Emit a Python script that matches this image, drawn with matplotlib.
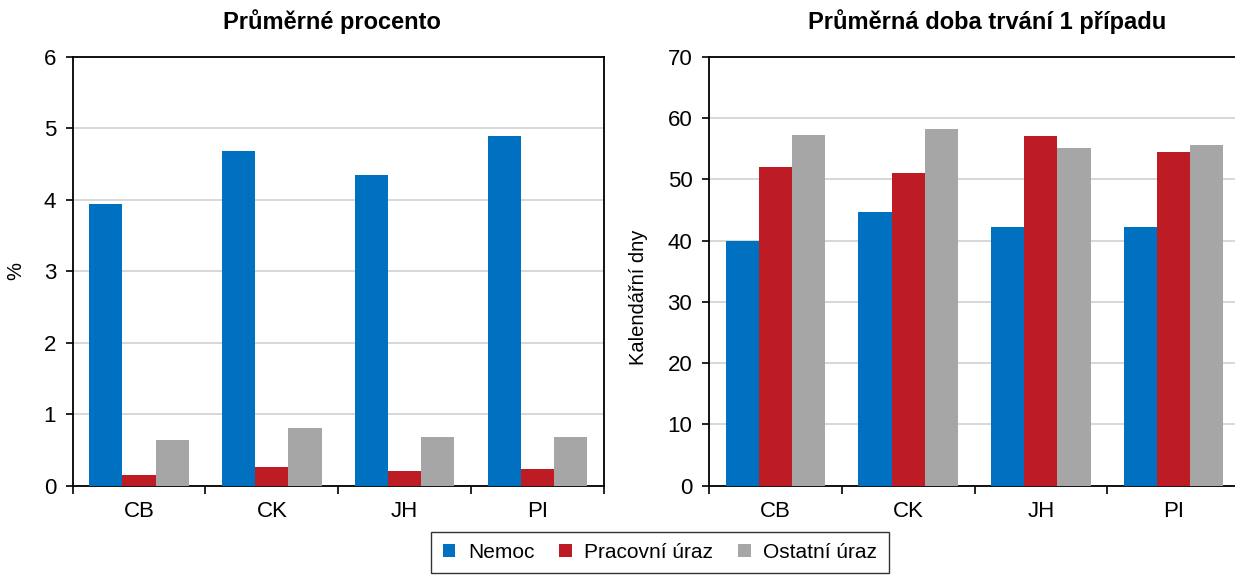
import matplotlib.pyplot as plt
import numpy as np
from matplotlib.patches import Patch

plt.rcParams['font.family'] = ['Liberation Sans', 'DejaVu Sans']

regions = ['CB', 'CK', 'JH', 'PI']
series = ['Nemoc', 'Pracovní úraz', 'Ostatní úraz']
colors = ['#0070C0', '#BE1C24', '#A6A6A6']

# Průměrné procento (%)
pct_nemoc = [3.94, 4.68, 4.35, 4.90]
pct_pracovni = [0.15, 0.26, 0.21, 0.23]
pct_ostatni = [0.64, 0.80, 0.68, 0.68]

# Průměrná doba trvání 1 případu (kalendářní dny)
dny_nemoc = [40.0, 44.6, 42.3, 42.3]
dny_pracovni = [52.1, 51.0, 57.1, 54.4]
dny_ostatni = [57.2, 58.2, 55.2, 55.6]

W, H = 1235, 576
fig = plt.figure(figsize=(W / 100, H / 100), dpi=100)

bottom = (H - 485.5) / H
height = 428.5 / H
ax1 = fig.add_axes([72.7 / W, bottom, 531 / W, height])
ax2 = fig.add_axes([709 / W, bottom, 531 / W, height])

x = np.arange(len(regions))
bw = 0.25


def draw(ax, data, ymax, step):
    for i, (vals, c) in enumerate(zip(data, colors)):
        ax.bar(x + (i - 1) * bw, vals, width=bw, color=c, zorder=3)
    ax.set_xlim(-0.5, len(regions) - 0.5)
    ax.set_ylim(0, ymax)
    ax.set_yticks(np.arange(0, ymax + step / 2, step))
    ax.grid(axis='y', color='#D4D4D4', linewidth=1.3, zorder=0)
    ax.set_xticks(x)
    ax.set_xticklabels(regions)
    ax.set_xticks(np.arange(-0.5, len(regions)), minor=True)
    ax.tick_params(axis='x', which='major', length=0, pad=11, labelsize=16)
    ax.tick_params(axis='x', which='minor', length=6, width=1.2, direction='out')
    ax.tick_params(axis='y', length=5, width=1.2, direction='out', pad=7, labelsize=16)
    for s in ax.spines.values():
        s.set_linewidth(1.3)
        s.set_color('black')


draw(ax1, [pct_nemoc, pct_pracovni, pct_ostatni], 6, 1)
draw(ax2, [dny_nemoc, dny_pracovni, dny_ostatni], 70, 10)

ax1.set_ylabel('%', fontsize=14.5)
ax1.yaxis.set_label_coords(-0.09, 0.5)
ax2.set_ylabel('Kalendářní dny', fontsize=14.5)
ax2.yaxis.set_label_coords(-0.115, 0.44)

fig.text(332 / W, 1 - 22 / H, 'Průměrné procento', ha='center', va='center',
         fontsize=17, fontweight='bold')
fig.text(987 / W, 1 - 22 / H, 'Průměrná doba trvání 1 případu', ha='center',
         va='center', fontsize=17, fontweight='bold')

handles = [Patch(facecolor=c, edgecolor='none') for c in colors]
leg = fig.legend(handles, series, loc='upper center', ncol=3,
                 bbox_to_anchor=(660 / W, 1 - 531.5 / H), frameon=True,
                 fancybox=False, fontsize=15, handlelength=0.6,
                 handleheight=0.6, handletextpad=0.6, columnspacing=1.2,
                 borderpad=0.55, borderaxespad=0)
leg.get_frame().set_edgecolor('black')
leg.get_frame().set_linewidth(1.0)

fig.savefig('out.png', dpi=100)
